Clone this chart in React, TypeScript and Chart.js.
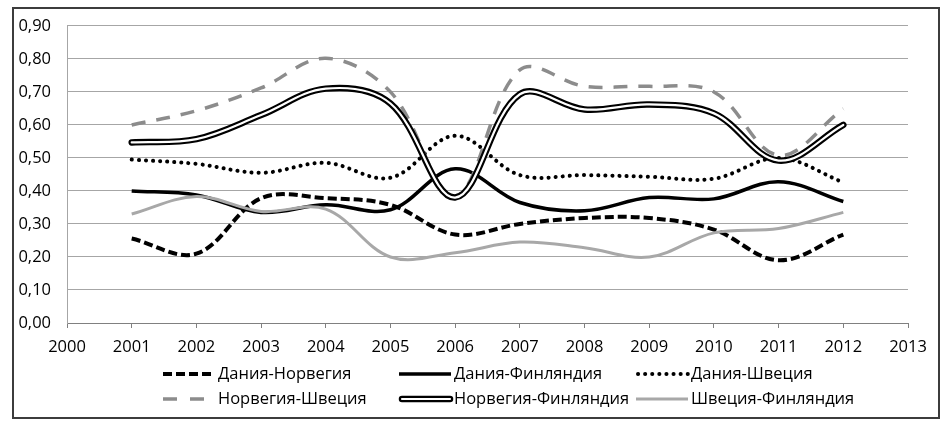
import React, { useEffect, useRef } from 'react';
import { Chart, registerables } from 'chart.js';

Chart.register(...registerables);

// ---- data ----
const years = [2001, 2002, 2003, 2004, 2005, 2006, 2007, 2008, 2009, 2010, 2011, 2012];
const daniaNorway = [0.256, 0.21, 0.378, 0.378, 0.358, 0.268, 0.3, 0.318, 0.318, 0.283, 0.19, 0.268];
const daniaFinland = [0.4, 0.388, 0.335, 0.358, 0.343, 0.467, 0.365, 0.34, 0.38, 0.376, 0.428, 0.368];
const daniaSweden = [0.495, 0.482, 0.455, 0.485, 0.44, 0.567, 0.448, 0.448, 0.443, 0.437, 0.5, 0.426];
const norwaySweden = [0.6, 0.643, 0.712, 0.802, 0.7, 0.385, 0.767, 0.717, 0.717, 0.7, 0.508, 0.649];
const norwayFinland = [0.547, 0.557, 0.63, 0.71, 0.665, 0.38, 0.693, 0.647, 0.662, 0.635, 0.492, 0.6];
const swedenFinland = [0.33, 0.383, 0.338, 0.345, 0.2, 0.213, 0.245, 0.228, 0.2, 0.273, 0.286, 0.335];

const seriesNames = [
  'Дания-Норвегия',
  'Дания-Финляндия',
  'Дания-Швеция',
  'Норвегия-Швеция',
  'Норвегия-Финляндия',
  'Швеция-Финляндия',
];
const seriesValues = [daniaNorway, daniaFinland, daniaSweden, norwaySweden, norwayFinland, swedenFinland];

const xMin = 2000;
const xMax = 2013;
const yMin = 0;
const yMax = 0.9;
const yStep = 0.1;

// ---- styles ----
const FONT = "'Open Sans', sans-serif";
const FONT_SIZE = 16.5;
type Style = { color: string; width: number; dash: number[]; cap: CanvasLineCap; legendDash?: number[] };
const styles: Style[] = [
  { color: '#000000', width: 4, dash: [9, 4], cap: 'butt' },
  { color: '#000000', width: 3.5, dash: [], cap: 'butt' },
  { color: '#000000', width: 4, dash: [0.1, 7], cap: 'round' },
  { color: '#8c8c8c', width: 3.5, dash: [14, 11], cap: 'butt', legendDash: [14, 13] },
  { color: '#000000', width: 6.5, dash: [], cap: 'round' },
  { color: '#a8a8a8', width: 3, dash: [], cap: 'butt' },
];
const LEGEND_COLS = [163, 399, 636];
const LEGEND_ROWS = [374, 399];
const MARKER_LEN = 52;

const toPoints = (vals: number[]) => vals.map((v, i) => ({ x: years[i], y: v }));

const framePlugin = {
  id: 'frameAndLegend',
  beforeDraw(chart: any) {
    const ctx = chart.ctx;
    ctx.save();
    ctx.fillStyle = '#ffffff';
    ctx.fillRect(0, 0, chart.width, chart.height);
    ctx.restore();
  },
  afterDraw(chart: any) {
    const ctx: CanvasRenderingContext2D = chart.ctx;
    ctx.save();
    // frame
    ctx.strokeStyle = '#3c3c3c';
    ctx.lineWidth = 2;
    ctx.strokeRect(13, 8, 926, 410);
    // legend
    ctx.font = `${FONT_SIZE}px ${FONT}`;
    ctx.textBaseline = 'middle';
    ctx.textAlign = 'left';
    seriesNames.forEach((name, i) => {
      const s = styles[i];
      const x0 = LEGEND_COLS[i % 3];
      const y = LEGEND_ROWS[Math.floor(i / 3)];
      ctx.beginPath();
      ctx.setLineDash(s.legendDash || s.dash);
      ctx.lineCap = s.cap;
      ctx.strokeStyle = s.color;
      ctx.lineWidth = s.width;
      if (i === 4) {
        ctx.moveTo(x0 + 3, y);
        ctx.lineTo(x0 + MARKER_LEN - 1, y);
        ctx.stroke();
        ctx.beginPath();
        ctx.strokeStyle = '#ffffff';
        ctx.lineWidth = 2.2;
        ctx.moveTo(x0 + 3, y);
        ctx.lineTo(x0 + MARKER_LEN - 1, y);
        ctx.stroke();
      } else {
        const start = s.cap === 'round' ? x0 + 2 : x0;
        ctx.moveTo(start, y);
        ctx.lineTo(x0 + MARKER_LEN, y);
        ctx.stroke();
      }
      ctx.setLineDash([]);
      ctx.fillStyle = '#000000';
      ctx.fillText(name, x0 + MARKER_LEN + 3, y);
    });
    ctx.restore();
  },
};

export default function App() {
  const canvasRef = useRef<HTMLCanvasElement | null>(null);

  useEffect(() => {
    const canvas = canvasRef.current;
    if (!canvas) return;

    const datasets: any[] = [];
    seriesValues.forEach((vals, i) => {
      const s = styles[i];
      datasets.push({
        label: seriesNames[i],
        data: toPoints(vals),
        borderColor: s.color,
        borderWidth: s.width,
        borderDash: s.dash,
        borderCapStyle: s.cap,
        pointRadius: 0,
        tension: 0.36,
        fill: false,
        order: 10 - i * 1.5,
      });
      if (i === 4) {
        datasets.push({
          label: seriesNames[i] + ' inner',
          data: toPoints(vals),
          borderColor: '#ffffff',
          borderWidth: 2.2,
          borderCapStyle: 'round',
          pointRadius: 0,
          tension: 0.36,
          fill: false,
          order: 10 - i * 1.5 - 0.5,
        });
      }
    });

    const chart = new Chart(canvas, {
      type: 'line',
      data: { datasets },
      options: {
        animation: false,
        responsive: false,
        devicePixelRatio: 1,
        layout: { padding: { top: 22, right: 44, bottom: 74, left: 0 } },
        plugins: {
          legend: { display: false },
          tooltip: { enabled: false },
        },
        scales: {
          x: {
            type: 'linear',
            min: xMin,
            max: xMax,
            afterFit: (scale: any) => {
              scale.height = 30;
            },
            ticks: {
              stepSize: 1,
              autoSkip: false,
              maxRotation: 0,
              padding: 9,
              color: '#000000',
              font: { family: FONT, size: FONT_SIZE },
              callback: (v: any) => String(v),
            },
            grid: {
              drawOnChartArea: false,
              drawTicks: true,
              tickLength: 5,
              color: '#808080',
              lineWidth: 1,
            },
            border: { display: true, color: '#808080', width: 1 },
          },
          y: {
            min: yMin,
            max: yMax,
            afterFit: (scale: any) => {
              scale.width = 67;
            },
            ticks: {
              stepSize: yStep,
              padding: 16,
              color: '#000000',
              font: { family: FONT, size: FONT_SIZE },
              callback: (v: any) => Number(v).toFixed(2).replace('.', ','),
            },
            grid: {
              drawTicks: false,
              color: '#a6a6a6',
              lineWidth: 1,
            },
            border: { display: true, color: '#a6a6a6', width: 1 },
          },
        },
      },
      plugins: [framePlugin],
    });

    return () => chart.destroy();
  }, []);

  return (
    <div style={{ position: 'absolute', left: 0, top: 0, width: 952, height: 427 }}>
      <canvas ref={canvasRef} width={952} height={427} style={{ width: 952, height: 427, display: 'block' }} />
    </div>
  );
}
